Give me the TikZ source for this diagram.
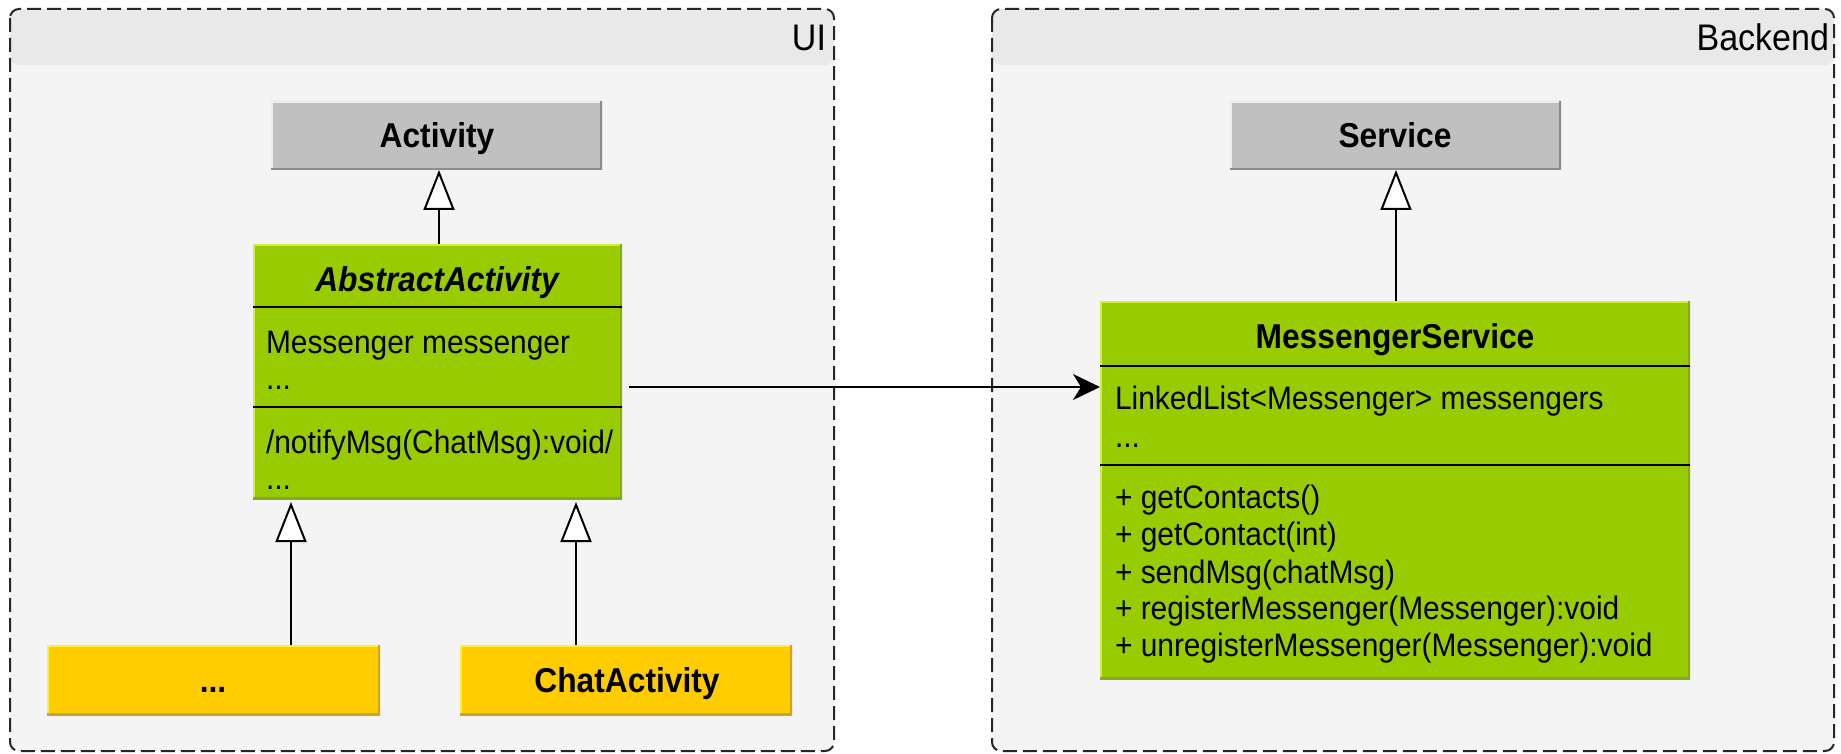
\documentclass[tikz,border=0pt]{standalone}
\usepackage{fontspec}
\setmainfont{Liberation Sans}[FakeStretch=0.92]
\usetikzlibrary{arrows.meta,calc}
\definecolor{contfill}{HTML}{F4F4F4}
\definecolor{conthead}{HTML}{E9E9E9}
\definecolor{clsgreen}{HTML}{99CC00}
\definecolor{clsgreenlt}{HTML}{D4EE3A}
\definecolor{clsgreendk}{HTML}{86A82A}
\definecolor{clsyellow}{HTML}{FFCC00}
\definecolor{clsyellowlt}{HTML}{FFF033}
\definecolor{clsyellowdk}{HTML}{C8A432}
\definecolor{clsgray}{HTML}{C0C0C0}
\definecolor{clsgraylt}{HTML}{EDEDED}
\definecolor{clsgraydk}{HTML}{8C8C8C}
\begin{document}
\begin{tikzpicture}[x=1pt,y=-1pt,
  clsbox/.style={rectangle, inner sep=0pt, outer sep=0pt, anchor=north west},
  bevel/.style 2 args={path picture={
     \draw[#1,line width=3.5pt] (path picture bounding box.south west) -- (path picture bounding box.north west) -- (path picture bounding box.north east);
     \draw[#2,line width=3.5pt] (path picture bounding box.north east) -- (path picture bounding box.south east) -- (path picture bounding box.south west);}},
  greencls/.style={clsbox, fill=clsgreen, bevel={clsgreenlt}{clsgreendk}},
  yellowcls/.style={clsbox, fill=clsyellow, bevel={clsyellowlt}{clsyellowdk}},
  graycls/.style={clsbox, fill=clsgray, bevel={clsgraylt}{clsgraydk}},
  container/.style={clsbox, fill=contfill, rounded corners=9pt,
     path picture={\fill[conthead] (path picture bounding box.north west) rectangle ([yshift=-56pt]path picture bounding box.north east);}},
  contborder/.style={draw=black!85, line width=2pt, dash pattern=on 14pt off 6pt, rounded corners=9pt},
  sep/.style={draw=black, line width=2.5pt},
  txt/.style={inner sep=0pt, outer sep=0pt, anchor=base west, font=\fontsize{32.5pt}{37pt}\selectfont},
  ttl/.style={inner sep=0pt, outer sep=0pt, anchor=base, font=\fontsize{34.5pt}{38pt}\selectfont\bfseries},
  lbl/.style={inner sep=0pt, outer sep=0pt, anchor=base east, font=\fontsize{37pt}{40pt}\selectfont},
  inh/.style={draw=black, line width=2pt, -{Triangle[length=40pt, width=31pt, fill=white]}},
  assoc/.style={draw=black, line width=2pt, -{Stealth[length=27pt, width=26pt, inset=8pt]}}
]
\useasboundingbox[fill=white] (0,0) rectangle (1841,754);

% containers
\node[container, minimum width=824pt, minimum height=742pt] (ui) at (10,9) {};
\draw[contborder] (ui.north west) rectangle (ui.south east);
\node[container, minimum width=842pt, minimum height=742pt] (be) at (992,9) {};
\draw[contborder] (be.north west) rectangle (be.south east);
\node[lbl] (uilbl) at (826,51) {UI};
\node[lbl] (belbl) at (1829,51) {Backend};

% UI classes
\node[graycls, minimum width=331pt, minimum height=69pt] (activity) at (271,101) {};
\node[ttl] (activityt) at (437,148) {Activity};

\node[greencls, minimum width=369pt, minimum height=255pt] (abs) at (253,244) {};
\draw[sep] ([yshift=-63pt]abs.north west) -- ([yshift=-63pt]abs.north east);
\draw[sep] ([yshift=-163pt]abs.north west) -- ([yshift=-163pt]abs.north east);
\node[ttl, font=\fontsize{34.5pt}{38pt}\selectfont\bfseries\itshape] (abst) at (437,291) {AbstractActivity};
\node[txt] (absa1) at (266,353) {Messenger messenger};
\node[txt] (absa2) at (266,389) {...};
\node[txt] (absm1) at (266,453) {/notifyMsg(ChatMsg):void/};
\node[txt] (absm2) at (266,489) {...};

\node[yellowcls, minimum width=333pt, minimum height=70pt] (dots) at (47,645) {};
\node[ttl] (dotst) at (213,692) {...};
\node[yellowcls, minimum width=332pt, minimum height=70pt] (chat) at (460,645) {};
\node[ttl] (chatt) at (627,692) {ChatActivity};

% Backend classes
\node[graycls, minimum width=331pt, minimum height=69pt] (service) at (1230,101) {};
\node[ttl] (servicet) at (1395,148) {Service};

\node[greencls, minimum width=590pt, minimum height=378pt] (ms) at (1100,301) {};
\draw[sep] ([yshift=-65pt]ms.north west) -- ([yshift=-65pt]ms.north east);
\draw[sep] ([yshift=-164pt]ms.north west) -- ([yshift=-164pt]ms.north east);
\node[ttl] (mst) at (1395,348) {MessengerService};
\node[txt] (msa1) at (1115,409) {LinkedList<Messenger> messengers};
\node[txt] (msa2) at (1115,447) {...};
\node[txt] (msm1) at (1115,508) {+ getContacts()};
\node[txt] (msm2) at (1115,545) {+ getContact(int)};
\node[txt] (msm3) at (1115,583) {+ sendMsg(chatMsg)};
\node[txt] (msm4) at (1115,619) {+ registerMessenger(Messenger):void};
\node[txt] (msm5) at (1115,656) {+ unregisterMessenger(Messenger):void};

% connectors
\coordinate (cx0) at (439,0);
\coordinate (cx1) at (291,0);
\coordinate (cx2) at (576,0);
\coordinate (cx3) at (1396,0);
\coordinate (astart) at (629,387);
\draw[inh] (abs.north -| cx0) -- (activity.south -| cx0);
\draw[inh] (dots.north -| cx1) -- ([yshift=-3pt]abs.south -| cx1);
\draw[inh] (chat.north -| cx2) -- ([yshift=-3pt]abs.south -| cx2);
\draw[inh] (ms.north -| cx3) -- (service.south -| cx3);
\draw[assoc] (astart) -- (astart -| ms.west);
\end{tikzpicture}
\end{document}
